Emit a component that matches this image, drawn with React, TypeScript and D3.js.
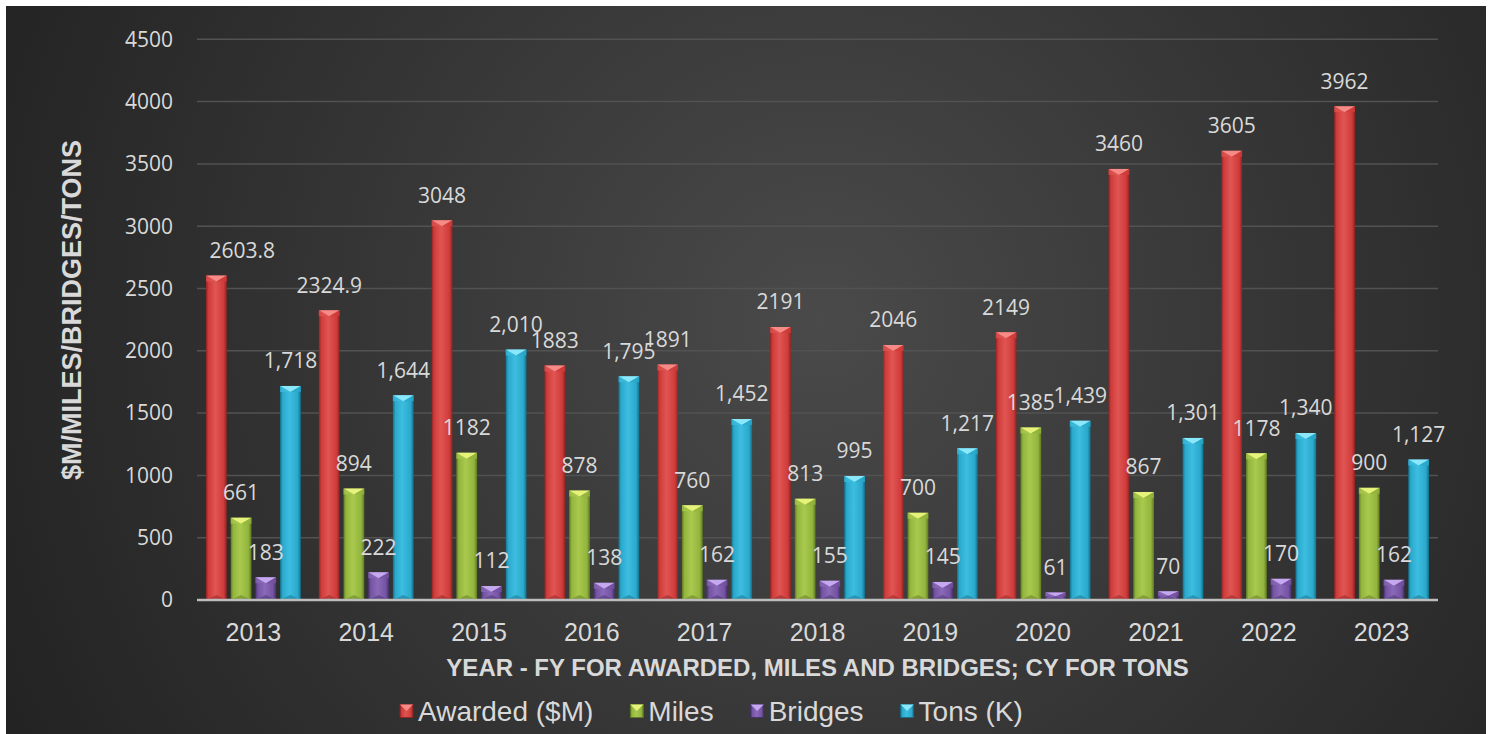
import React, { useEffect, useRef } from "react";
import * as d3 from "d3";

const years = ["2013", "2014", "2015", "2016", "2017", "2018", "2019", "2020", "2021", "2022", "2023"];
const seriesNames = ["Awarded ($M)", "Miles", "Bridges", "Tons (K)"];
const awarded = [2603.8, 2324.9, 3048, 1883, 1891, 2191, 2046, 2149, 3460, 3605, 3962];
const miles = [661, 894, 1182, 878, 760, 813, 700, 1385, 867, 1178, 900];
const bridges = [183, 222, 112, 138, 162, 155, 145, 61, 70, 170, 162];
const tons = [1718, 1644, 2010, 1795, 1452, 995, 1217, 1439, 1301, 1340, 1127];
const yTicks = [0, 500, 1000, 1500, 2000, 2500, 3000, 3500, 4000, 4500];

const W = 1491;
const H = 734;

const palette = [
  { dark: "#8e2424", main: "#cf3c3a", light: "#e05553", top: "#f58a86", id: "r" },
  { dark: "#5f7a22", main: "#93b53d", light: "#a9c94e", top: "#e6f27a", id: "g" },
  { dark: "#44306b", main: "#7553a3", light: "#8a69b8", top: "#c6a8f0", id: "p" },
  { dark: "#146f8a", main: "#2aa9cc", light: "#3dbde0", top: "#8be8fb", id: "c" },
];

export default function App() {
  const ref = useRef<SVGSVGElement | null>(null);

  useEffect(() => {
    const svg = d3.select(ref.current);
    svg.selectAll("*").remove();

    const defs = svg.append("defs");
    const bg = defs
      .append("radialGradient")
      .attr("id", "bg")
      .attr("gradientUnits", "userSpaceOnUse")
      .attr("cx", 820)
      .attr("cy", 320)
      .attr("r", 900);
    bg.append("stop").attr("offset", 0).attr("stop-color", "#4a4a4a");
    bg.append("stop").attr("offset", 0.55).attr("stop-color", "#343434");
    bg.append("stop").attr("offset", 1).attr("stop-color", "#232323");

    palette.forEach((p) => {
      const g = defs
        .append("linearGradient")
        .attr("id", "bar-" + p.id)
        .attr("x1", 0)
        .attr("x2", 1)
        .attr("y1", 0)
        .attr("y2", 0);
      g.append("stop").attr("offset", 0).attr("stop-color", p.dark);
      g.append("stop").attr("offset", 0.12).attr("stop-color", p.main);
      g.append("stop").attr("offset", 0.45).attr("stop-color", p.light);
      g.append("stop").attr("offset", 0.85).attr("stop-color", p.main);
      g.append("stop").attr("offset", 1).attr("stop-color", p.dark);
    });

    svg
      .append("rect")
      .attr("x", 6)
      .attr("y", 6)
      .attr("width", 1480)
      .attr("height", H - 6)
      .attr("fill", "url(#bg)");

    const plotL = 197;
    const plotR = 1438;
    const y = d3.scaleLinear().domain([0, 4500]).range([600, 39.3]);
    const x0 = d3.scaleBand<string>().domain(years).range([plotL, plotR]).padding(0);
    const groupPad = 9;
    const x1 = d3
      .scaleBand<string>()
      .domain(seriesNames)
      .range([groupPad, x0.bandwidth() - groupPad])
      .paddingInner(0.16);

    // gridlines
    svg
      .append("g")
      .selectAll("line")
      .data(yTicks.filter((t) => t > 0))
      .join("line")
      .attr("x1", plotL)
      .attr("x2", plotR)
      .attr("y1", (d) => y(d))
      .attr("y2", (d) => y(d))
      .attr("stroke", "#525252")
      .attr("stroke-width", 1.5);

    // y tick labels
    svg
      .append("g")
      .selectAll("text")
      .data(yTicks)
      .join("text")
      .attr("x", 173)
      .attr("y", (d) => y(d))
      .attr("dy", "0.35em")
      .attr("text-anchor", "end")
      .attr("fill", "#d9d9d9")
      .attr("font-family", "'Open Sans', sans-serif")
      .attr("font-size", 21)
      .text((d) => String(d));

    const allSeries = [awarded, miles, bridges, tons];
    const fmt = [
      (v: number) => String(v),
      (v: number) => String(v),
      (v: number) => String(v),
      (v: number) => d3.format(",")(v),
    ];
    const labelDx: Record<string, number> = { "0-0": 26 };

    const bars = svg.append("g");
    allSeries.forEach((vals, si) => {
      const p = palette[si];
      const name = seriesNames[si];
      vals.forEach((v, i) => {
        const bx = (x0(years[i]) as number) + (x1(name) as number);
        const bw = x1.bandwidth();
        const by = y(v);
        const bh = y(0) - by;
        const g = bars.append("g");
        g.append("rect")
          .attr("x", bx)
          .attr("y", by)
          .attr("width", bw)
          .attr("height", bh)
          .attr("fill", `url(#bar-${p.id})`);
        const bev = Math.min(6, bh / 2);
        g.append("polygon")
          .attr("points", `${bx},${by} ${bx + bw},${by} ${bx + bw / 2},${by + bev}`)
          .attr("fill", p.top);
        g.append("polygon")
          .attr("points", `${bx},${by} ${bx + bw / 2},${by + bev} ${bx},${by + bev}`)
          .attr("fill", p.light)
          .attr("opacity", 0.7);
        g.append("polygon")
          .attr("points", `${bx + bw},${by} ${bx + bw / 2},${by + bev} ${bx + bw},${by + bev}`)
          .attr("fill", p.main)
          .attr("opacity", 0.8);
        g.append("polygon")
          .attr(
            "points",
            `${bx},${y(0)} ${bx + bw},${y(0)} ${bx + bw / 2},${y(0) - Math.min(5, bh / 2)}`
          )
          .attr("fill", p.dark)
          .attr("opacity", 0.5);
      });
    });

    // axis baseline
    svg
      .append("line")
      .attr("x1", plotL)
      .attr("x2", plotR)
      .attr("y1", y(0))
      .attr("y2", y(0))
      .attr("stroke", "#bdbdbd")
      .attr("stroke-width", 2.5);

    // data labels
    const labels = svg.append("g");
    allSeries.forEach((vals, si) => {
      const name = seriesNames[si];
      vals.forEach((v, i) => {
        const cx = (x0(years[i]) as number) + (x1(name) as number) + x1.bandwidth() / 2;
        labels
          .append("text")
          .attr("x", cx + (labelDx[`${si}-${i}`] || 0))
          .attr("y", y(v) - 25)
          .attr("dy", "0.35em")
          .attr("text-anchor", "middle")
          .attr("fill", "#d9d9d9")
          .attr("font-family", "'Open Sans', sans-serif")
          .attr("font-size", 21)
          .text(fmt[si](v));
      });
    });

    // x tick labels
    svg
      .append("g")
      .selectAll("text")
      .data(years)
      .join("text")
      .attr("x", (d) => (x0(d) as number) + x0.bandwidth() / 2)
      .attr("y", 632)
      .attr("dy", "0.35em")
      .attr("text-anchor", "middle")
      .attr("fill", "#d9d9d9")
      .attr("font-family", "'Liberation Sans', Arial, sans-serif")
      .attr("font-size", 25)
      .text((d) => d);

    // axis titles
    svg
      .append("text")
      .attr("x", (plotL + plotR) / 2)
      .attr("y", 668)
      .attr("dy", "0.35em")
      .attr("text-anchor", "middle")
      .attr("fill", "#d9d9d9")
      .attr("font-family", "'Liberation Sans', Arial, sans-serif")
      .attr("font-weight", "bold")
      .attr("font-size", 24)
      .text("YEAR - FY FOR AWARDED, MILES AND BRIDGES; CY FOR TONS");

    svg
      .append("text")
      .attr("transform", "translate(72,310) rotate(-90)")
      .attr("dy", "0.35em")
      .attr("text-anchor", "middle")
      .attr("fill", "#d9d9d9")
      .attr("font-family", "'Liberation Sans', Arial, sans-serif")
      .attr("font-weight", "bold")
      .attr("font-size", 27)
      .text("$M/MILES/BRIDGES/TONS");

    // legend
    const legend = svg.append("g");
    let lx = 400;
    const ly = 711;
    seriesNames.forEach((name, si) => {
      const p = palette[si];
      const s = 13;
      legend
        .append("rect")
        .attr("x", lx)
        .attr("y", ly - s / 2)
        .attr("width", s)
        .attr("height", s)
        .attr("fill", `url(#bar-${p.id})`)
        .attr("stroke", p.dark)
        .attr("stroke-width", 0.8);
      legend
        .append("polygon")
        .attr("points", `${lx},${ly - s / 2} ${lx + s},${ly - s / 2} ${lx + s / 2},${ly}`)
        .attr("fill", p.top);
      const t = legend
        .append("text")
        .attr("x", lx + s + 5)
        .attr("y", ly)
        .attr("dy", "0.35em")
        .attr("fill", "#d9d9d9")
        .attr("font-family", "'Liberation Sans', Arial, sans-serif")
        .attr("font-size", 28)
        .text(name);
      const tw = (t.node() as SVGTextElement).getComputedTextLength();
      lx = lx + s + 5 + tw + 37;
    });
  }, []);

  return (
    <svg
      ref={ref}
      width={W}
      height={H}
      style={{ position: "absolute", left: 0, top: 0, background: "#ffffff" }}
    />
  );
}
